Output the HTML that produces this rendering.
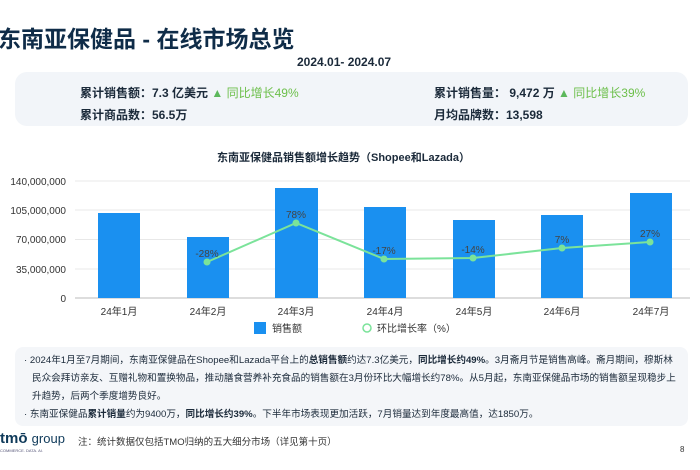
<!DOCTYPE html>
<html><head><meta charset="utf-8"><style>
body{margin:0;width:700px;height:470px;background:#fff;font-family:"Liberation Sans","Noto Sans CJK SC",sans-serif;color:#1b2a3a;position:relative;overflow:hidden}
.a{position:absolute;white-space:nowrap}
b{font-weight:bold}
.n{font-size:9.6px}
</style></head><body>
<div class="a" style="left:-2px;top:20px;font-size:23px;font-weight:bold;color:#0f2c48">东南亚保健品 - 在线市场总览</div>
<div class="a" style="left:297px;top:55px;font-size:12px;font-weight:bold">2024.01- 2024.07</div>
<div class="a" style="left:15px;top:72px;width:673px;height:54px;background:#f2f5f9;border-radius:12px"></div>
<div class="a" style="left:80px;top:84px;font-size:12px;font-weight:bold">累计销售额：7.3 亿美元 <span style="color:#5cb85c">▲</span> <span style="color:#6cbf4a;font-weight:normal">同比增长49%</span></div>
<div class="a" style="left:80px;top:106px;font-size:12px;font-weight:bold">累计商品数：56.5万</div>
<div class="a" style="left:434px;top:84px;font-size:12px;font-weight:bold">累计销售量： 9,472 万 <span style="color:#5cb85c">▲</span> <span style="color:#6cbf4a;font-weight:normal">同比增长39%</span></div>
<div class="a" style="left:434px;top:106px;font-size:12px;font-weight:bold">月均品牌数：13,598</div>
<div class="a" style="left:217px;top:149px;font-size:11px;font-weight:bold">东南亚保健品销售额增长趋势（Shopee和Lazada）</div>
<svg class="a" style="left:0;top:0" width="700" height="470" font-family="Liberation Sans,Noto Sans CJK SC,sans-serif">
<g stroke="#e8e8e8"><line x1="75" x2="690" y1="181" y2="181"/><line x1="75" x2="690" y1="210" y2="210"/><line x1="75" x2="690" y1="239.5" y2="239.5"/><line x1="75" x2="690" y1="269" y2="269"/></g>
<line x1="75" x2="690" y1="298" y2="298" stroke="#bbb"/>
<g font-size="10" fill="#333" text-anchor="end"><text x="66" y="185">140,000,000</text><text x="66" y="214">105,000,000</text><text x="66" y="243">70,000,000</text><text x="66" y="273">35,000,000</text><text x="66" y="302">0</text></g>
<g fill="#1a90f0"><rect x="98" y="213" width="42" height="85"/><rect x="187" y="237" width="42" height="61"/><rect x="275" y="188" width="43" height="110"/><rect x="364" y="207" width="42" height="91"/><rect x="453" y="220" width="42" height="78"/><rect x="541" y="215" width="42" height="83"/><rect x="630" y="193" width="42" height="105"/></g>
<g font-size="10" fill="#333" text-anchor="middle"><text x="119" y="315">24年1月</text><text x="208" y="315">24年2月</text><text x="296" y="315">24年3月</text><text x="385" y="315">24年4月</text><text x="474" y="315">24年5月</text><text x="562" y="315">24年6月</text><text x="651" y="315">24年7月</text></g>
<polyline points="207,262 296,223 384,259 473,258 562,248 650,242" fill="none" stroke="#7be39a" stroke-width="2"/>
<g fill="#7be39a"><circle cx="207" cy="262" r="3.5"/><circle cx="296" cy="223" r="3.5"/><circle cx="384" cy="259" r="3.5"/><circle cx="473" cy="258" r="3.5"/><circle cx="562" cy="248" r="3.5"/><circle cx="650" cy="242" r="3.5"/></g>
<g font-size="10" fill="#444" text-anchor="middle"><text x="207" y="257">-28%</text><text x="296" y="218">78%</text><text x="384" y="254">-17%</text><text x="473" y="253">-14%</text><text x="562" y="243">7%</text><text x="650" y="237">27%</text></g>
<rect x="254" y="322" width="12" height="12" fill="#1a90f0"/><text x="272" y="332" font-size="10" fill="#333">销售额</text>
<circle cx="367" cy="328" r="4" fill="none" stroke="#7be39a" stroke-width="1.5"/><text x="377" y="332" font-size="10" fill="#333">环比增长率（%）</text>
</svg>
<div class="a" style="left:15px;top:347px;width:673px;height:79px;background:#f4f6f9;border-radius:8px"></div>
<div class="a n" style="left:24px;top:352px">· 2024年1月至7月期间，东南亚保健品在Shopee和Lazada平台上的<b>总销售额</b>约达7.3亿美元，<b>同比增长约49%</b>。3月斋月节是销售高峰。斋月期间，穆斯林</div>
<div class="a n" style="left:32px;top:370px">民众会拜访亲友、互赠礼物和置换物品，推动膳食营养补充食品的销售额在3月份环比大幅增长约78%。从5月起，东南亚保健品市场的销售额呈现稳步上</div>
<div class="a n" style="left:32px;top:388px">升趋势，后两个季度增势良好。</div>
<div class="a n" style="left:24px;top:406px">· 东南亚保健品<b>累计销量</b>约为9400万，<b>同比增长约39%</b>。下半年市场表现更加活跃，7月销量达到年度最高值，达1850万。</div>
<div class="a" style="left:0;top:430px;font-size:15px;color:#0f3a5a"><b>tmō</b> <span style="font-size:13px">group</span></div>
<div class="a" style="left:0;top:448px;font-size:4px;color:#557">COMMERCE. DATA. AI.</div>
<div class="a" style="left:78px;top:434px;font-size:9.5px;color:#333">注：统计数据仅包括TMO归纳的五大细分市场（详见第十页）</div>
<div class="a" style="left:680px;top:445px;font-size:8px;color:#333">8</div>
</body></html>
